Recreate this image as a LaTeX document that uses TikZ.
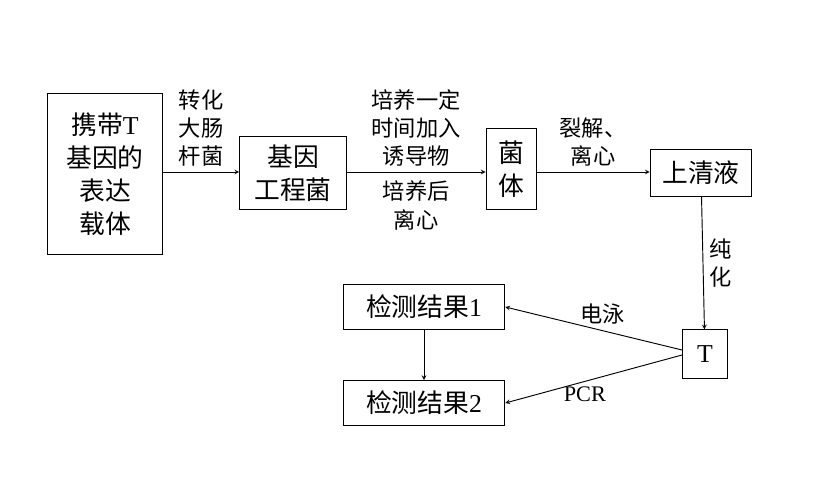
\documentclass[tikz,border=0pt]{standalone}
\usepackage{fontspec}
\setmainfont{Liberation Serif}
\newfontfamily\cjk{Noto Sans CJK SC}
\usetikzlibrary{positioning}
\tikzset{
  box/.style={draw=black, thick, align=center, inner sep=2pt, font=\cjk\fontsize{22}{28}\selectfont},
  lbl/.style={align=center, font=\cjk\fontsize{19}{24}\selectfont},
  arr/.style={->, thick, >=stealth}
}
\begin{document}
\begin{tikzpicture}[x=0.03cm, y=-0.03cm]
\useasboundingbox (0,0) rectangle (831,502);
\node[box, minimum width=3.45cm, minimum height=4.85cm] (vec) at (105,174) {携带{\rmfamily T}\\基因的\\表达\\载体};
\node[box, minimum width=3.2cm, minimum height=2.2cm] (eng) at (293,173) {基因\\工程菌};
\node[box, minimum width=1.5cm, minimum height=2.45cm] (cell) at (511,169) {菌\\体};
\node[box, minimum width=3.05cm, minimum height=1.4cm] (sup) at (701,173) {上清液};
\node[box, minimum width=1.35cm, minimum height=1.45cm, font=\rmfamily\fontsize{22}{28}\selectfont] (t) at (705,354) {T};
\node[box, minimum width=4.85cm, minimum height=1.35cm] (r1) at (424,307) {检测结果{\rmfamily 1}};
\node[box, minimum width=4.85cm, minimum height=1.35cm] (r2) at (424,403) {检测结果{\rmfamily 2}};
% connectors
\draw[arr] (vec.east |- 0,172) -- (eng.west |- 0,172) node[lbl, midway, above=1pt] {转化\\大肠\\杆菌};
\draw[arr] (eng.east |- 0,172) -- (cell.west |- 0,172)
  node[lbl, midway, above=1pt] {培养一定\\时间加入\\诱导物}
  node[lbl, midway, below=4pt] {培养后\\离心};
\draw[arr] (cell.east |- 0,172) -- (sup.west |- 0,172) node[lbl, midway, above=1pt] {裂解、\\离心};
\draw[arr] (sup) -- (t) node[lbl, midway, right=2pt] {纯\\化};
\draw[arr] (t.west |- 0,350) -- (r1.east) node[lbl, pos=0.45, above=2pt] {电泳};
\draw[arr] (t.west |- 0,355) -- (r2.east) node[lbl, pos=0.55, below=1pt, font=\rmfamily\fontsize{19}{24}\selectfont] {PCR};
\draw[arr] (r1) -- (r2);
\end{tikzpicture}
\end{document}
